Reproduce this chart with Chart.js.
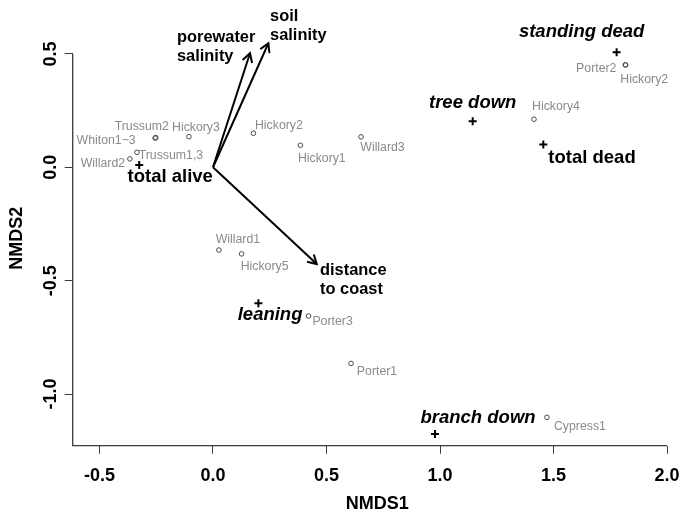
<!DOCTYPE html>
<html><head><meta charset="utf-8">
<script src="https://cdn.jsdelivr.net/npm/chart.js@4/dist/chart.umd.min.js"></script>
<style>html,body{margin:0;padding:0;background:#fff;} canvas{display:block;}</style>
</head><body>
<canvas id="c" width="682" height="515"></canvas>
<script>
// ---- data ----
const siteNames = ["Trussum2","Whiton1\u22123","Hickory3","Trussum1,3","Willard2","Hickory2","Hickory1","Willard3","Hickory4","Porter2","Hickory2","Willard1","Hickory5","Porter3","Porter1","Cypress1"];
const siteX = [-0.252,-0.255,-0.106,-0.335,-0.366,0.178,0.385,0.652,1.414,1.816,1.818,0.026,0.126,0.421,0.608,1.471];
const siteY = [0.131,0.129,0.135,0.066,0.037,0.150,0.097,0.134,0.212,0.452,0.451,-0.365,-0.382,-0.656,-0.865,-1.103];
const speciesNames = ["standing dead","tree down","total dead","total alive","leaning","branch down"];
const speciesX = [1.778,1.144,1.455,-0.325,0.200,0.978];
const speciesY = [0.507,0.203,0.100,0.010,-0.600,-1.176];
const envNames = [["porewater","salinity"],["soil","salinity"],["distance","to coast"]];
const envX = [0.163,0.244,0.457];
const envY = [0.503,0.547,-0.427];
const xTicks = [-0.5,0,0.5,1,1.5,2];
const yTicks = [-1,-0.5,0,0.5];
const xTitle = "NMDS1";
const yTitle = "NMDS2";

// ---- layout / style (pixel offsets of labels from their marks) ----
const F = "'Liberation Sans', Arial, sans-serif";
const siteLabelOffsets = [[-14,-11],[-49,3],[7,-9.5],[34,3],[-27,5],[25.5,-8],[21.4,13],[21.5,11],[22,-12.7],[-29,4],[18.5,15],[19,-10],[23,13],[24,6],[26,8],[33,9]];
const speciesLabelOffsets = [[-35,-20.6],[0,-18.6],[48.7,13.6],[31,11.7],[11.7,11.7],[43,-15.7]];
const speciesItalic = [true,true,false,false,true,true];
const envLabelOffsets = [[-73,-16],[1.7,-26.6],[3.3,6]];

const overlay = {
  id: 'overlay',
  afterDatasetsDraw(chart) {
    const {ctx, chartArea: a} = chart;
    const x = chart.scales.x, y = chart.scales.y;
    ctx.save();
    // L-shaped axis lines
    ctx.strokeStyle = '#3a3a3a'; ctx.lineWidth = 1.3;
    ctx.beginPath();
    ctx.moveTo(a.left, y.getPixelForValue(yTicks[yTicks.length-1]));
    ctx.lineTo(a.left, a.bottom);
    ctx.lineTo(x.getPixelForValue(xTicks[xTicks.length-1]), a.bottom);
    ctx.stroke();
    // rotated y tick labels
    ctx.fillStyle = '#000';
    ctx.font = "bold 18px " + F;
    ctx.textAlign = 'center'; ctx.textBaseline = 'middle';
    y.ticks.forEach(t => {
      const py = y.getPixelForValue(t.value);
      ctx.save();
      ctx.translate(a.left - 22, py);
      ctx.rotate(-Math.PI/2);
      ctx.fillText(t.value.toFixed(1), 0, 0);
      ctx.restore();
    });
    // arrow heads
    ctx.strokeStyle = '#000'; ctx.lineWidth = 2;
    const ox = x.getPixelForValue(0), oy = y.getPixelForValue(0);
    envX.forEach((v, i) => {
      const tx = x.getPixelForValue(v), ty = y.getPixelForValue(envY[i]);
      const ang = Math.atan2(ty - oy, tx - ox);
      const L = 10, h = Math.PI/6;
      ctx.beginPath();
      ctx.moveTo(tx - L*Math.cos(ang - h), ty - L*Math.sin(ang - h));
      ctx.lineTo(tx, ty);
      ctx.lineTo(tx - L*Math.cos(ang + h), ty - L*Math.sin(ang + h));
      ctx.stroke();
    });
    // site labels
    ctx.fillStyle = '#8a8a8a';
    ctx.font = "12.3px " + F;
    ctx.textAlign = 'center'; ctx.textBaseline = 'middle';
    siteNames.forEach((n, i) => {
      const px = x.getPixelForValue(siteX[i]), py = y.getPixelForValue(siteY[i]);
      ctx.fillText(n, px + siteLabelOffsets[i][0], py + siteLabelOffsets[i][1]);
    });
    // species labels
    ctx.fillStyle = '#000';
    speciesNames.forEach((n, i) => {
      ctx.font = (speciesItalic[i] ? "italic " : "") + "bold 18.5px " + F;
      const px = x.getPixelForValue(speciesX[i]), py = y.getPixelForValue(speciesY[i]);
      ctx.fillText(n, px + speciesLabelOffsets[i][0], py + speciesLabelOffsets[i][1]);
    });
    // environmental vector labels
    ctx.font = "bold 16.4px " + F;
    ctx.textAlign = 'left';
    envNames.forEach((lines, i) => {
      const px = x.getPixelForValue(envX[i]), py = y.getPixelForValue(envY[i]);
      lines.forEach((s, k) => ctx.fillText(s, px + envLabelOffsets[i][0], py + envLabelOffsets[i][1] + k*19));
    });
    ctx.restore();
  }
};

new Chart(document.getElementById('c'), {
  type: 'scatter',
  data: {
    datasets: [
      { label: 'sites', data: siteX.map((v,i)=>({x:v, y:siteY[i]})), pointStyle:'circle', pointRadius:2.3, borderColor:'#4a4a4a', backgroundColor:'rgba(0,0,0,0)', borderWidth:1, clip:false },
      { label: 'species', data: speciesX.map((v,i)=>({x:v, y:speciesY[i]})), pointStyle:'cross', pointRadius:4, borderColor:'#000', borderWidth:2, clip:false },
      ...envX.map((v,i)=>({ type:'line', label: envNames[i].join(' '), data:[{x:0,y:0},{x:v,y:envY[i]}], borderColor:'#000', borderWidth:2, pointRadius:0, fill:false, clip:false, showLine:true }))
    ]
  },
  options: {
    responsive:false, animation:false, devicePixelRatio:1,
    layout:{ autoPadding:false, padding:{ top:31, left:0, right:0, bottom:0 } },
    plugins:{ legend:{display:false}, tooltip:{enabled:false} },
    scales:{
      x:{ type:'linear', min:-0.618, max:2.066,
        afterFit: s => { s.height = 69.3; s.paddingLeft = 0; s.paddingRight = 0; },
        afterBuildTicks: s => { s.ticks = xTicks.map(v=>({value:v})); },
        border:{display:false},
        grid:{ drawOnChartArea:false, drawTicks:true, tickLength:8, color:'#3a3a3a', lineWidth:1 },
        ticks:{ font:{family:F, size:18, weight:'bold'}, color:'#000', padding:12, maxRotation:0, minRotation:0, autoSkip:false, callback: v => Number(v).toFixed(1) },
        title:{ display:true, text:xTitle, font:{family:F, size:18, weight:'bold'}, color:'#000', padding:{top:0, bottom:0} }
      },
      y:{ type:'linear', min:-1.228, max:0.601,
        afterFit: s => { s.width = 72.7; s.paddingTop = 0; s.paddingBottom = 0; },
        afterBuildTicks: s => { s.ticks = yTicks.map(v=>({value:v})); },
        border:{display:false},
        grid:{ drawOnChartArea:false, drawTicks:true, tickLength:8, color:'#3a3a3a', lineWidth:1 },
        ticks:{ display:false },
        title:{ display:true, text:yTitle, font:{family:F, size:18, weight:'bold'}, color:'#000', padding:{top:6.7, bottom:0} }
      }
    }
  },
  plugins:[overlay]
});
</script>
</body></html>
